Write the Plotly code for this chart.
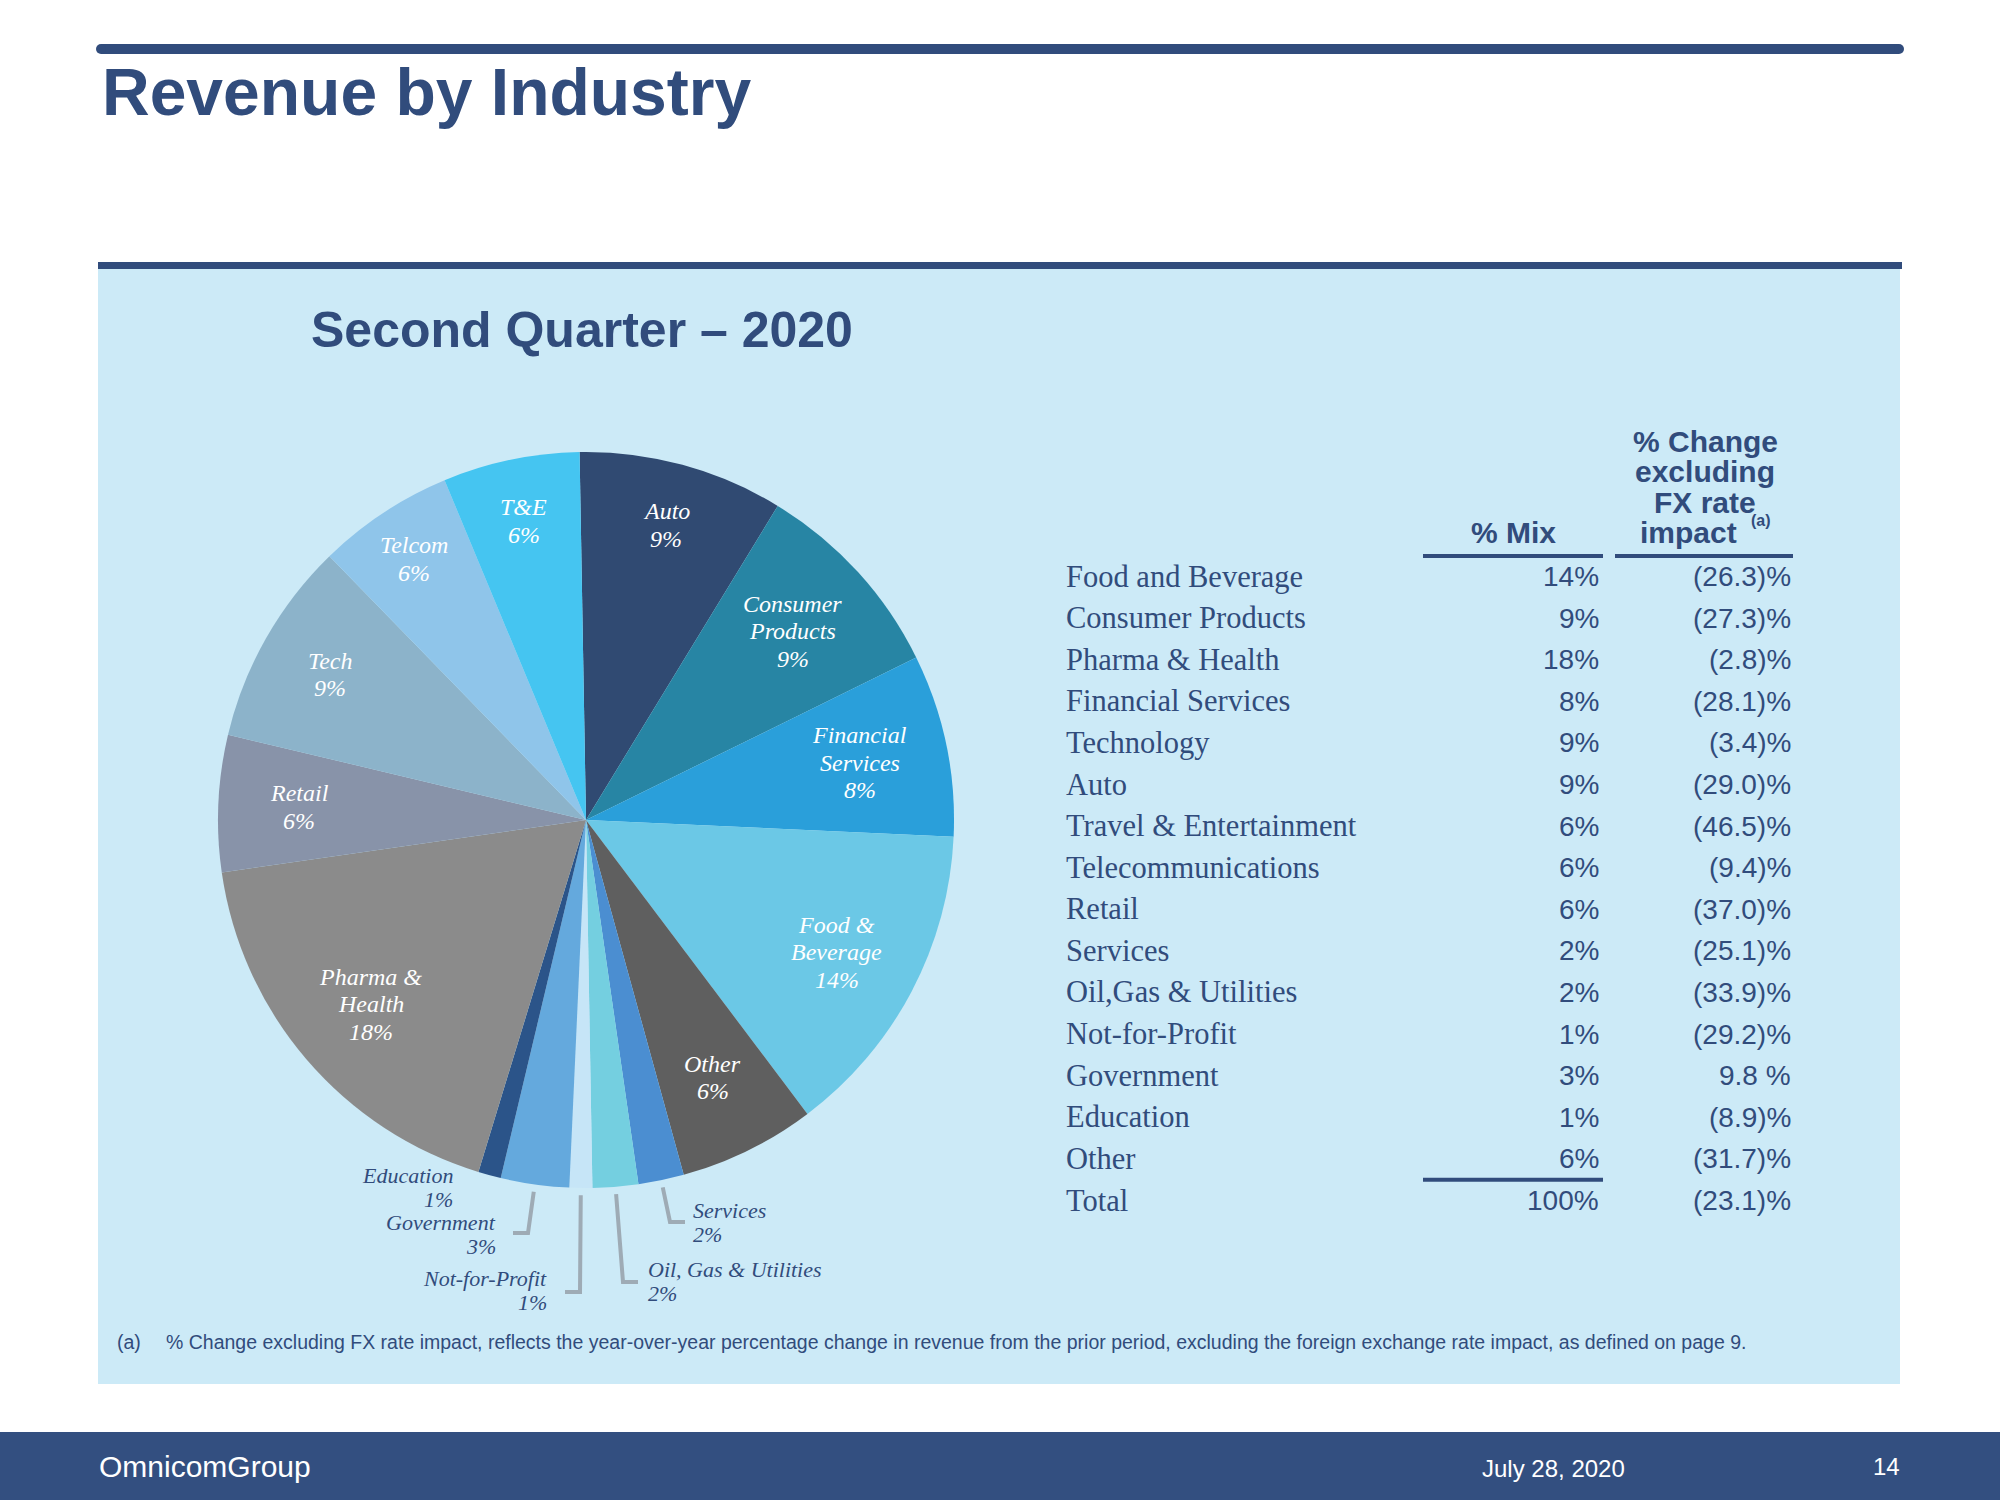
import math
import plotly.graph_objects as go

# ---- data -------------------------------------------------------------
# pie slices, clockwise from 12 o'clock
slice_names = ["Auto", "Consumer Products", "Financial Services", "Food & Beverage",
               "Other", "Services", "Oil, Gas & Utilities", "Not-for-Profit",
               "Government", "Education", "Pharma & Health", "Retail", "Tech",
               "Telcom", "T&E"]
slice_values = [9, 9, 8, 14, 6, 2, 2, 1, 3, 1, 18, 6, 9, 6, 6]
slice_label_lines = [["Auto"], ["Consumer", "Products"], ["Financial", "Services"],
                     ["Food &", "Beverage"], ["Other"], ["Services"],
                     ["Oil, Gas & Utilities"], ["Not-for-Profit"], ["Government"],
                     ["Education"], ["Pharma &", "Health"], ["Retail"], ["Tech"],
                     ["Telcom"], ["T&E"]]
slice_colors = ["#304a72", "#2785a4", "#2a9fda", "#6bc8e6", "#5f5f5f", "#4b8ed1",
                "#74cfe0", "#c6e5f7", "#64a9dd", "#2b5489", "#8b8b8b", "#8893a9",
                "#8cb3ca", "#8fc5ea", "#45c5f1"]

# table
table_rows = ["Food and Beverage", "Consumer Products", "Pharma & Health",
              "Financial Services", "Technology", "Auto", "Travel & Entertainment",
              "Telecommunications", "Retail", "Services", "Oil,Gas & Utilities",
              "Not-for-Profit", "Government", "Education", "Other"]
table_mix = [14, 9, 18, 8, 9, 9, 6, 6, 6, 2, 2, 1, 3, 1, 6]
table_change = [-26.3, -27.3, -2.8, -28.1, -3.4, -29.0, -46.5, -9.4, -37.0, -25.1,
                -33.9, -29.2, 9.8, -8.9, -31.7]
total_label = "Total"
total_mix = 100
total_change = -23.1

title_text = "Revenue by Industry"
subtitle_text = "Second Quarter \u2013 2020"
footnote_text = ("% Change excluding FX rate impact, reflects the year-over-year percentage "
                 "change in revenue from the prior period, excluding the foreign exchange "
                 "rate impact, as defined on page 9.")
footer_logo = "OmnicomGroup"
footer_date = "July 28, 2020"
footer_page = "14"

# ---- layout helpers ---------------------------------------------------
W, H = 2000, 1500
NAVY = "#314c7c"
PANEL = "#cceaf7"
SANS = "Liberation Sans, Arial, sans-serif"
SERIF = "Liberation Serif, Times New Roman, serif"


def px(x):
    return x / W


def py(y):
    return 1 - y / H


fig = go.Figure()


def text_at(t, x, y, anchor="left", size=20, color=NAVY, family=SANS, style="normal",
            weight="normal"):
    fig.add_annotation(x=px(x), y=py(y), xref="paper", yref="paper", text=t,
                       showarrow=False, xanchor=anchor, yanchor="middle",
                       font=dict(family=family, size=size, color=color, style=style,
                                 weight=weight))


def lines_at(lines, x, y0, step, **kw):
    for i, t in enumerate(lines):
        text_at(t, x, y0 + i * step, **kw)


# ---- page decoration --------------------------------------------------
fig.add_shape(type="rect", xref="paper", yref="paper", x0=px(98), x1=px(1900),
              y0=py(1384), y1=py(268), fillcolor=PANEL, line_width=0, layer="below")
fig.add_shape(type="line", xref="paper", yref="paper", x0=px(101), x1=px(1899),
              y0=py(49), y1=py(49), line=dict(color=NAVY, width=10))
for cx in (101, 1899):
    fig.add_shape(type="circle", xref="paper", yref="paper", x0=px(cx - 5), x1=px(cx + 5),
                  y0=py(54), y1=py(44), fillcolor=NAVY, line_width=0)
fig.add_shape(type="rect", xref="paper", yref="paper", x0=px(98), x1=px(1902),
              y0=py(269), y1=py(262), fillcolor=NAVY, line_width=0)
fig.add_shape(type="rect", xref="paper", yref="paper", x0=0, x1=1,
              y0=py(1500), y1=py(1432), fillcolor="#334f80", line_width=0, layer="below")

text_at(title_text, 100, 92, size=66, weight="bold")
text_at(subtitle_text, 309, 330, size=50, weight="bold")

# ---- pie --------------------------------------------------------------
CX, CY, R = 586, 820, 368
ROT = -1

fig.add_trace(go.Pie(
    labels=slice_names, values=slice_values, sort=False, direction="clockwise",
    rotation=ROT, marker=dict(colors=slice_colors, line=dict(width=0)),
    textinfo="none", hoverinfo="label+percent", showlegend=False,
    domain=dict(x=[px(CX - R), px(CX + R)], y=[py(CY + R), py(CY - R)]),
))

total = sum(slice_values)
mid_angle = {}
acc = 0
for name, v in zip(slice_names, slice_values):
    mid_angle[name] = math.radians(ROT + (acc + v / 2) / total * 360)
    acc += v

# labels inside the big slices: radial distance as fraction of R
inside_r = {"Auto": 0.83, "Consumer Products": 0.76, "Financial Services": 0.76,
            "Food & Beverage": 0.77, "Other": 0.78, "Pharma & Health": 0.77,
            "Retail": 0.78, "Tech": 0.80, "Telcom": 0.85, "T&E": 0.83}
for name, lines, v in zip(slice_names, slice_label_lines, slice_values):
    if name not in inside_r:
        continue
    a = mid_angle[name]
    r = inside_r[name] * R
    x = CX + r * math.sin(a)
    y = CY - r * math.cos(a)
    block = lines + [f"{v}%"]
    step = 27.5
    lines_at(block, x, y - (len(block) - 1) * step / 2, step, anchor="center", size=24,
             color="white", family=SERIF, style="italic")

# small slices labelled outside, with elbow leader lines
outside = {
    "Education": dict(anchor="right", x=455, y=1175, elbow=None),
    "Government": dict(anchor="right", x=498, y=1222, elbow=(528, 1233), end=513),
    "Not-for-Profit": dict(anchor="right", x=549, y=1278, elbow=(580, 1292), end=565),
    "Oil, Gas & Utilities": dict(anchor="left", x=646, y=1269, elbow=(623, 1282), end=638),
    "Services": dict(anchor="left", x=691, y=1210, elbow=(670, 1222), end=685),
}
for name, lines, v in zip(slice_names, slice_label_lines, slice_values):
    if name not in outside:
        continue
    o = outside[name]
    lines_at(lines + [f"{v}%"], o["x"], o["y"], 24.5, anchor=o["anchor"], size=22,
             color=NAVY, family=SERIF, style="italic")
    if o["elbow"] is None:
        continue
    a = mid_angle[name]
    sx = CX + 1.02 * R * math.sin(a)
    sy = CY - 1.02 * R * math.cos(a)
    ex, ey = o["elbow"]
    path = (f"M {px(sx)},{py(sy)} L {px(ex)},{py(ey)} L {px(o['end'])},{py(ey)}")
    fig.add_shape(type="path", xref="paper", yref="paper", path=path,
                  line=dict(color="#9eabb5", width=4))

# ---- table ------------------------------------------------------------
LABEL_X, MIX_X, CHG_X = 1064, 1601, 1793
ROW0, ROW_STEP = 576.5, 41.6


def fmt_change(c):
    return f"({abs(c):.1f})%" if c < 0 else f"{c:.1f} %"


hdr = dict(size=30, weight="bold", anchor="center")
text_at("% Mix", 1513, 533, **hdr)
lines_at(["% Change", "excluding", "FX rate"], 1705, 441, 30.7, **hdr)
text_at("impact", 1688, 533, **hdr)
text_at("(a)", 1749, 521, anchor="left", size=16, weight="bold")
for x0, x1 in ((1423, 1603), (1615, 1793)):
    fig.add_shape(type="line", xref="paper", yref="paper", x0=px(x0), x1=px(x1),
                  y0=py(556), y1=py(556), line=dict(color=NAVY, width=4))

all_rows = table_rows + [total_label]
all_mix = table_mix + [total_mix]
all_chg = table_change + [total_change]
for i, (lab, m, c) in enumerate(zip(all_rows, all_mix, all_chg)):
    y = ROW0 + i * ROW_STEP
    text_at(lab, LABEL_X, y, size=30.5, family=SERIF)
    text_at(f"{m}%", MIX_X, y, anchor="right", size=28)
    text_at(fmt_change(c), CHG_X, y, anchor="right", size=28)

y_tot = ROW0 + (len(all_rows) - 1.5) * ROW_STEP
fig.add_shape(type="line", xref="paper", yref="paper", x0=px(1423), x1=px(1603),
              y0=py(y_tot), y1=py(y_tot), line=dict(color=NAVY, width=4))

# ---- footnote & footer -------------------------------------------------
text_at("(a)", 115, 1342, size=19.5)
text_at(footnote_text, 164, 1342, size=19.5)
text_at(footer_logo, 97, 1466, size=30, color="white")
text_at(footer_date, 1553, 1468, anchor="center", size=24, color="white")
text_at(footer_page, 1886, 1466, anchor="center", size=24, color="white")

fig.update_layout(width=W, height=H, margin=dict(l=0, r=0, t=0, b=0),
                  paper_bgcolor="white", plot_bgcolor="white")
fig.write_html("out.html", config={"displayModeBar": False},
               post_script="document.body.style.margin='0';")
